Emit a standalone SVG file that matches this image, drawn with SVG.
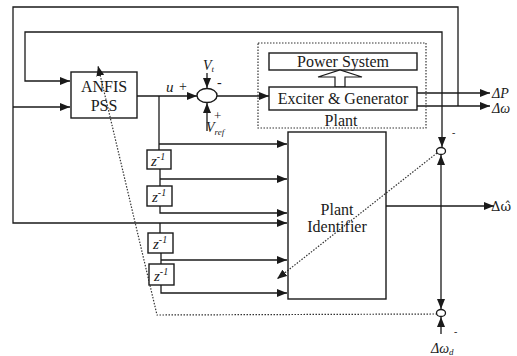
<svg xmlns="http://www.w3.org/2000/svg" width="517" height="356" viewBox="0 0 517 356">
<style>
.ln{fill:none;stroke:#1a1a1a;stroke-width:1.3}
.dot{fill:none;stroke:#333;stroke-width:1.2;stroke-dasharray:1.5 1.5}
.box{fill:#fff;stroke:#1a1a1a;stroke-width:1.4}
.obox{fill:none;stroke:#1a1a1a;stroke-width:1.4}
.i{font-style:italic}
</style>
<defs>
<marker id="ar" markerUnits="userSpaceOnUse" markerWidth="10" markerHeight="8" refX="10" refY="4" orient="auto-start-reverse">
<path d="M0,0 L10,4 L0,8 z" fill="#1a1a1a"/>
</marker>
<marker id="ard" markerUnits="userSpaceOnUse" markerWidth="10" markerHeight="8" refX="10" refY="4" orient="auto">
<path d="M0,0 L10,4 L0,8 z" fill="#1a1a1a"/>
</marker>
</defs>

<g id="connectors">
<path class="ln" d="M458,106 L458,7 L13,7 L13,223 L287,223" marker-end="url(#ar)"/>
<path class="ln" d="M13,107 L70,107" marker-end="url(#ar)"/>
<path class="ln" d="M442,147 L442,32 L25,32 L25,81 L70,81" marker-start="url(#ar)" marker-end="url(#ar)"/>
<path class="ln" d="M137,96 L197,96" marker-end="url(#ar)"/>
<path class="ln" d="M217,96 L269,96" marker-end="url(#ar)"/>
<path class="ln" d="M207,73 L207,88" marker-end="url(#ar)"/>
<path class="ln" d="M207,131 L207,103" marker-end="url(#ar)"/>
<path class="ln" d="M417,93 L490,93" marker-end="url(#ar)"/>
<path class="ln" d="M417,106 L490,106" marker-end="url(#ar)"/>
<path class="ln" d="M159,96 L159,150"/>
<path class="ln" d="M159,144 L287,144" marker-end="url(#ar)"/>
<path class="ln" d="M160,169 L160,186"/>
<path class="ln" d="M160,179 L287,179" marker-end="url(#ar)"/>
<path class="ln" d="M160,206 L160,213 L287,213" marker-end="url(#ar)"/>
<path class="ln" d="M160,223 L160,233"/>
<path class="ln" d="M161,253 L161,264"/>
<path class="ln" d="M161,260 L287,260" marker-end="url(#ar)"/>
<path class="ln" d="M161,285 L161,293 L287,293" marker-end="url(#ar)"/>
<path class="ln" d="M386,206 L494,206" marker-end="url(#ar)"/>
<path class="ln" d="M441,155 L441,309" marker-start="url(#ar)" marker-end="url(#ar)"/>
<path class="ln" d="M441,334 L441,317" marker-end="url(#ar)"/>
<path class="dot" d="M437,153 L277,279" marker-end="url(#ard)"/>
<path class="dot" d="M437,314 L157,315 L98,66" marker-end="url(#ard)"/>
</g>

<g font-family="Liberation Serif, Times New Roman, serif" fill="#1a1a1a">
<g id="anfis">
<rect class="obox" x="71" y="72" width="66" height="46"/>
<text x="104" y="92" font-size="16" text-anchor="middle">ANFIS</text>
<text x="104" y="111" font-size="16" text-anchor="middle">PSS</text>
</g>

<g id="sum">
<ellipse cx="207" cy="95.5" rx="10" ry="7" fill="#fff" stroke="#1a1a1a" stroke-width="1.4"/>
<text class="i" x="166" y="92" font-size="15">u</text>
<text x="179" y="91" font-size="14">+</text>
<text class="i" x="203" y="70" font-size="14">V<tspan font-size="9" dy="2">t</tspan></text>
<text x="217" y="87" font-size="14">-</text>
<text x="214" y="120" font-size="13">+</text>
<text class="i" x="206" y="132" font-size="14">V<tspan font-size="9" dy="3">ref</tspan></text>
</g>

<g id="plant">
<rect x="258" y="43" width="168" height="85" fill="none" stroke="#333" stroke-width="1.2" stroke-dasharray="1.5 1.5"/>
<text x="341" y="126" font-size="16" text-anchor="middle">Plant</text>
</g>

<g id="power-system">
<rect class="box" x="269" y="53" width="148" height="17"/>
<text x="343" y="67" font-size="16" text-anchor="middle">Power System</text>
</g>

<g id="hollow-arrow">
<polygon points="335,87 335,77 318,77 340,70 362,77 345,77 345,87" fill="#fff" stroke="#1a1a1a" stroke-width="1.2"/>
</g>

<g id="exciter">
<rect class="box" x="269" y="87" width="148" height="23"/>
<text x="343" y="104" font-size="16" text-anchor="middle">Exciter &amp; Generator</text>
</g>

<g id="outputs">
<text class="i" x="492" y="98" font-size="14">ΔP</text>
<text class="i" x="492" y="113" font-size="14">Δω</text>
</g>

<g id="plant-identifier">
<rect class="obox" x="288" y="132" width="98" height="167"/>
<text x="337" y="215" font-size="16" text-anchor="middle">Plant</text>
<text x="337" y="232" font-size="16" text-anchor="middle">Identifier</text>
</g>

<g id="delay1">
<rect class="box" x="147" y="150" width="24" height="19"/>
<text class="i" x="151" y="166" font-size="15">z<tspan font-size="10" dy="-6">-1</tspan></text>
</g>
<g id="delay2">
<rect class="box" x="147" y="186" width="25" height="20"/>
<text class="i" x="152" y="202" font-size="15">z<tspan font-size="10" dy="-6">-1</tspan></text>
</g>
<g id="delay3">
<rect class="box" x="148" y="233" width="25" height="20"/>
<text class="i" x="153" y="249" font-size="15">z<tspan font-size="10" dy="-6">-1</tspan></text>
</g>
<g id="delay4">
<rect class="box" x="149" y="264" width="25" height="21"/>
<text class="i" x="154" y="281" font-size="15">z<tspan font-size="10" dy="-6">-1</tspan></text>
</g>

<g id="comparator1">
<ellipse cx="441" cy="151" rx="4.5" ry="3.5" fill="#fff" stroke="#1a1a1a" stroke-width="1.3"/>
<text x="452" y="136" font-size="10">-</text>
</g>

<g id="comparator2">
<ellipse cx="441" cy="313" rx="4.5" ry="3.5" fill="#fff" stroke="#1a1a1a" stroke-width="1.3"/>
<text x="454" y="335" font-size="10">-</text>
<text class="i" x="431" y="353" font-size="14">Δω<tspan font-size="9" dy="2">d</tspan></text>
</g>

<g id="identifier-output">
<text x="491" y="211" font-size="13" font-family="DejaVu Serif, serif">Δ<tspan>ω̂</tspan></text>
</g>
</g>
</svg>
